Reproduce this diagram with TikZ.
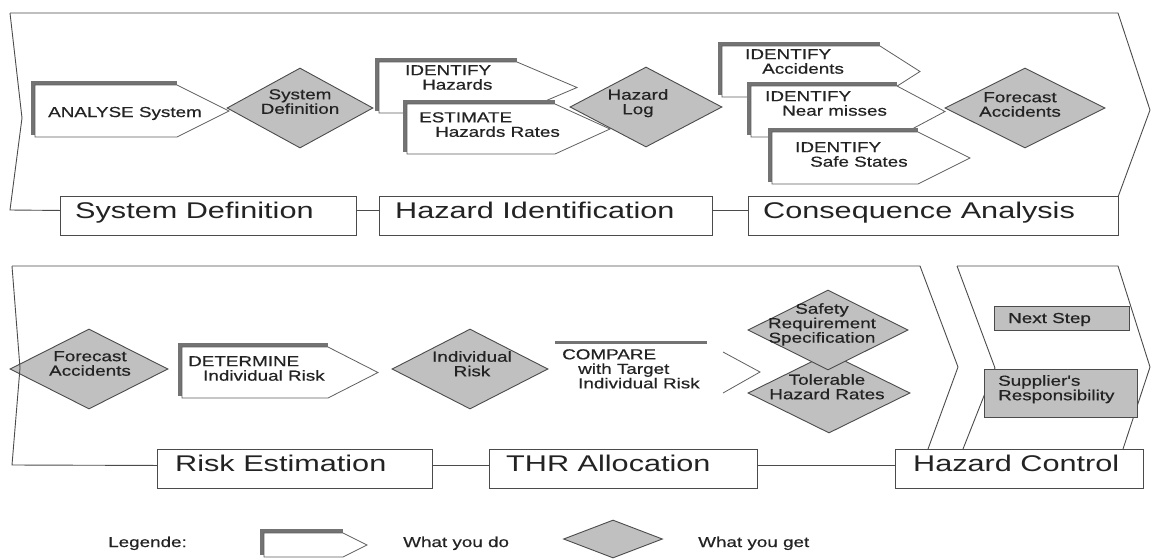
\documentclass[tikz,border=0pt]{standalone}
\usepackage{fontspec}
\setmainfont{Liberation Sans}
\newfontfamily\smf[FakeStretch=1.3,FakeBold=0.5]{Liberation Sans}
\newfontfamily\bgf[FakeStretch=1.35]{Liberation Sans}
\usetikzlibrary{shapes.geometric}
\definecolor{dfill}{RGB}{192,192,192}
\definecolor{dline}{RGB}{75,75,75}
\definecolor{shc}{RGB}{115,115,115}
\definecolor{olc}{RGB}{95,95,95}
\definecolor{tcol}{RGB}{35,35,35}
% action shape: L, T, C (corner x), P (point x), B
\newcommand\actshape[5]{%
  \fill[shc] (#1-4.5,#2-4.5) rectangle (#3,#5-2);
  \draw[olc, fill=white, line width=0.8pt] (#1,#2) -- (#3,#2) -- (#4,{(#2+#5)/2}) -- (#3,#5) -- (#1,#5) -- cycle;
}
\begin{document}
\begin{tikzpicture}[x=1pt,y=-1pt,
  chev/.style={draw=dline, line width=0.9pt},
  lbl/.style={draw=dline, fill=white, line width=0.9pt, inner sep=0pt, anchor=north west},
  gbox/.style={draw=dline, fill=dfill, line width=0.9pt, inner sep=0pt, anchor=north west},
  dia/.style={diamond, draw=dline, fill=dfill, line width=0.9pt, inner sep=0pt},
  tx/.style={inner sep=0pt, text=tcol, font=\smf\fontsize{14.5}{14.5}\selectfont, align=left, anchor=north west},
  txc/.style={inner sep=0pt, text=tcol, font=\smf\fontsize{14.5}{14.5}\selectfont, align=center, anchor=north},
  txb/.style={inner sep=0pt, text=tcol, font=\smf\fontsize{14.5}{14.5}\selectfont, anchor=base west},
  big/.style={inner sep=0pt, text=tcol, font=\bgf\fontsize{22.7}{24}\selectfont, anchor=base west}
]
\useasboundingbox (0,0) rectangle (1151,558);

% ---------- top band ----------
\node[lbl, minimum width=296pt, minimum height=39pt] (sdbox) at (60,196) {};
\node[lbl, minimum width=333pt, minimum height=39pt] (hibox) at (379,196) {};
\node[lbl, minimum width=370pt, minimum height=39pt] (cabox) at (748,196) {};
\draw[chev] (10,13) -- (1118,13) -- (1150,110) -- (1118,197);
\draw[chev] (10,13) -- (22,118) -- (10,210) -- ([yshift=5.5pt]sdbox.west);
\draw[chev] ([yshift=5.5pt]sdbox.east) -- ([yshift=5.5pt]hibox.west);
\draw[chev] ([yshift=5.5pt]hibox.east) -- ([yshift=5.5pt]cabox.west);
\node[big] (sdt) at (75,218) {System Definition};
\node[big] (hit) at (395,218) {Hazard Identification};
\node[big] (cat) at (763,218) {Consequence Analysis};

\actshape{35}{85}{177}{229}{137}
\node[dia, minimum width=146pt, minimum height=80pt] (dsys) at (300,108) {};
\actshape{379}{62}{517}{577}{113}
\actshape{407}{104}{555}{610}{154}
\node[dia, minimum width=152pt, minimum height=80pt] (dlog) at (646,107) {};
\actshape{722}{46}{880}{920}{97}
\actshape{751}{86}{897}{945}{137}
\actshape{772}{132}{918}{970}{184}
\node[dia, minimum width=160pt, minimum height=80pt] (dfc1) at (1025,108) {};

\node[txb] (t1) at (48,117) {ANALYSE System};
\node[txc] (t2) at (300,89) {System\\Definition};
\node[tx] (t3) at (405,65) {IDENTIFY\\\hspace*{17pt}Hazards};
\node[tx] (t4) at (419,112) {ESTIMATE\\\hspace*{16pt}Hazards Rates};
\node[txc] (t5) at (638,89) {Hazard\\Log};
\node[tx] (t6) at (745,49) {IDENTIFY\\\hspace*{17pt}Accidents};
\node[tx] (t7) at (765,91) {IDENTIFY\\\hspace*{17pt}Near misses};
\node[tx] (t8) at (795,142) {IDENTIFY\\\hspace*{15pt}Safe States};
\node[txc] (t9) at (1020,92) {Forecast\\Accidents};

% ---------- bottom band ----------
\node[lbl, minimum width=275pt, minimum height=39pt] (rebox) at (157,449) {};
\node[lbl, minimum width=268pt, minimum height=39pt] (thrbox) at (489,449) {};
\node[lbl, minimum width=248pt, minimum height=39pt] (hcbox) at (895,449) {};
\draw[chev] (12,266) -- (920,266) -- (958,367) -- (928,449);
\draw[chev] (957,266) -- (1118,266) -- (1150,367) -- (1123,449);
\draw[chev] (957,266) -- (995,368) -- (963,449);
\draw[chev] ([yshift=3.5pt]rebox.east) -- ([yshift=3.5pt]thrbox.west);
\draw[chev] ([yshift=3.5pt]thrbox.east) -- ([yshift=3.5pt]hcbox.west);
\node[big] (ret) at (175,471) {Risk Estimation};
\node[big] (thrt) at (506,471) {THR Allocation};
\node[big] (hct) at (913,471) {Hazard Control};

\node[dia, minimum width=158pt, minimum height=80pt] (dfc2) at (89,369) {};
\draw[chev] (12,266) -- (20,368) -- (12,465) -- ([yshift=3.5pt]rebox.west);
\actshape{182}{347}{328}{378}{398}
\node[dia, minimum width=156pt, minimum height=80pt] (dir) at (470,369) {};
% COMPARE (faded shape)
\fill[white] (559,346) -- (712,346) -- (760,372) -- (712,398) -- (559,398) -- cycle;
\fill[shc] (555,341) rectangle (707,344);
\draw[olc, line width=0.8pt] (723,352) -- (760,372) -- (723,393);
\node[dia, minimum width=162pt, minimum height=80pt] (dthr) at (829,393) {};
\node[dia, minimum width=160pt, minimum height=80pt] (dsrs) at (828,330) {};
\node[gbox, minimum width=135pt, minimum height=24pt] (nsbox) at (994,306) {};
\node[gbox, minimum width=153pt, minimum height=48pt] (supbox) at (984,369) {};

\node[txc] (b1) at (90,351) {Forecast\\Accidents};
\node[tx] (b2) at (188,356) {DETERMINE\\\hspace*{15pt}Individual Risk};
\node[txc] (b3) at (472,351) {Individual\\Risk};
\node[tx] (b4) at (562,349) {COMPARE\\\hspace*{16pt}with Target\\\hspace*{16pt}Individual Risk};
\node[txc] (b5) at (822,303) {Safety\\Requirement\\Specification};
\node[txc] (b6) at (827,374) {Tolerable\\Hazard Rates};
\node[txb] (b7) at (1008,323) {Next Step};
\node[tx] (b8) at (998,375) {Supplier's\\Responsibility};

% ---------- legend ----------
\node[txb] (lg) at (108,547) {Legende:};
\actshape{264}{533}{343}{367}{557}
\node[txb] (lgdo) at (403,547) {What you do};
\node[dia, minimum width=99pt, minimum height=38pt] (lgdia) at (613,539) {};
\node[txb] (lgget) at (698,547) {What you get};
\end{tikzpicture}
\end{document}
